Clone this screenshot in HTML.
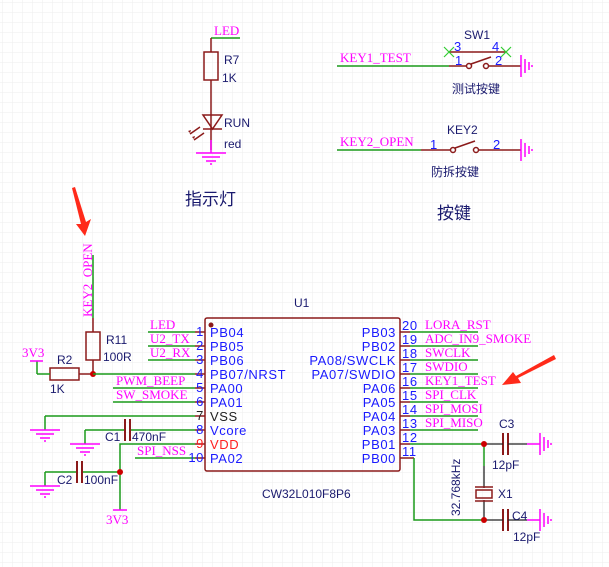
<!DOCTYPE html>
<html><head><meta charset="utf-8"><style>
html,body{margin:0;padding:0;background:#fff}
svg{display:block}
.n{font-family:"Liberation Serif",serif;font-size:13px;fill:#ff00ff}
.p{font-family:"Liberation Sans",sans-serif;font-size:13px;fill:#1a1aff;letter-spacing:0.6px}
.d{font-family:"Liberation Sans",sans-serif;font-size:12px;fill:#1a1a6e}
.c{font-family:"Liberation Sans","Noto Sans CJK SC",sans-serif;fill:#1a1a6e}
</style></head><body>
<svg width="609" height="567" viewBox="0 0 609 567" xmlns="http://www.w3.org/2000/svg">
<defs>
<pattern id="g" width="10" height="10" patternUnits="userSpaceOnUse" x="2" y="2">
<path d="M10 0H0V10" fill="none" stroke="#eeeeee" stroke-width="1"/>
</pattern>
<g id="gv" stroke="#ff00ff" stroke-width="1.5"><line x1="0" y1="-11" x2="0" y2="11"/><line x1="4" y1="-7" x2="4" y2="7"/><line x1="8" y1="-4" x2="8" y2="4"/><line x1="11" y1="-1" x2="11" y2="1"/></g>
<g id="gh" stroke="#ff00ff" stroke-width="1.5"><line x1="-15" y1="0" x2="15" y2="0"/><line x1="-9" y1="4" x2="9" y2="4"/><line x1="-5" y1="8" x2="5" y2="8"/><line x1="-1" y1="11" x2="1" y2="11"/></g>
</defs>
<rect width="609" height="567" fill="url(#g)"/>

<!-- LED section -->
<text class="n" x="214" y="35">LED</text>
<line x1="211" y1="38" x2="240" y2="38" stroke="#1a9a1a" stroke-width="1.5"/>
<g stroke="#8b1a1a" stroke-width="1.5" fill="none">
<line x1="211" y1="38" x2="211" y2="52"/>
<rect x="204" y="52" width="14" height="28"/>
<line x1="211" y1="80" x2="211" y2="150"/>
<polygon points="203,115 222,115 212.5,129"/>
<line x1="203" y1="129" x2="222" y2="129"/>
<line x1="200" y1="127" x2="190" y2="134"/><line x1="204" y1="133" x2="194" y2="140"/>
</g>
<path d="M188 131l3-1-1 3zM192 137l3-1-1 3z" fill="#8b1a1a"/>
<line x1="211" y1="140" x2="211" y2="153" stroke="#ff00ff" stroke-width="1.5"/>
<use href="#gh" x="211" y="153"/>
<text class="d" x="224" y="64" font-size="13">R7</text>
<text class="d" x="222" y="82" font-size="13">1K</text>
<text class="d" x="224" y="127" font-size="13">RUN</text>
<text class="d" x="224" y="148" font-size="13">red</text>
<text class="c" x="185" y="205" font-size="17" fill="#2a2aaa">指示灯</text>

<!-- SW1 -->
<text class="d" x="464" y="39">SW1</text>
<text class="n" x="340" y="62">KEY1_TEST</text>
<line x1="337" y1="66" x2="449" y2="66" stroke="#1a9a1a" stroke-width="1.5"/>
<g stroke="#8b1a1a" stroke-width="1.5" fill="none">
<line x1="449" y1="66" x2="466" y2="66"/>
<circle cx="469" cy="66" r="2.5"/>
<line x1="471" y1="64" x2="491" y2="57"/>
<circle cx="486" cy="66" r="2.5"/>
<line x1="489" y1="66" x2="521" y2="66"/>
<line x1="449" y1="52" x2="506" y2="52"/>
</g>
<g stroke="#33cc33" stroke-width="1.2"><path d="M444 47l10 10M454 47l-10 10M501 47l10 10M511 47l-10 10"/></g>
<text class="p" x="454" y="51">3</text><text class="p" x="492" y="51">4</text>
<text class="p" x="455" y="65">1</text><text class="p" x="495" y="65">2</text>
<use href="#gv" x="521" y="66"/>
<text class="c" x="452" y="93" font-size="12">测试按键</text>

<!-- KEY2 -->
<text class="d" x="447" y="134">KEY2</text>
<text class="n" x="340" y="146">KEY2_OPEN</text>
<line x1="337" y1="150" x2="421" y2="150" stroke="#1a9a1a" stroke-width="1.5"/>
<g stroke="#8b1a1a" stroke-width="1.5" fill="none">
<line x1="421" y1="150" x2="450" y2="150"/>
<circle cx="453" cy="150" r="2.5"/>
<line x1="455" y1="148" x2="475" y2="141"/>
<circle cx="476" cy="150" r="2.5"/>
<line x1="479" y1="150" x2="521" y2="150"/>
</g>
<text class="p" x="430" y="149">1</text><text class="p" x="493" y="149">2</text>
<use href="#gv" x="521" y="150"/>
<text class="c" x="431" y="176" font-size="12">防拆按键</text>
<text class="c" x="437" y="219" font-size="17" fill="#2a2aaa">按键</text>

<!-- arrows -->
<g fill="#ff2a1a">
<polygon points="72,188 75,187 86,222 91,219 85,236 76,224 81,224"/>
<polygon points="554,355 556,359 518,378 521,383 502,385 513,372 516,376"/>
</g>

<!-- KEY2_OPEN vertical, R11, R2 -->
<text class="n" transform="translate(92,317) rotate(-90)">KEY2_OPEN</text>
<line x1="93" y1="255" x2="93" y2="318" stroke="#1a9a1a" stroke-width="1.5"/>
<g stroke="#8b1a1a" stroke-width="1.5" fill="none">
<line x1="93" y1="318" x2="93" y2="332"/>
<rect x="86" y="332" width="14" height="28"/>
<line x1="93" y1="360" x2="93" y2="374"/>
<rect x="50" y="368" width="29" height="12"/>
<line x1="79" y1="374" x2="93" y2="374"/>
</g>
<g stroke="#1a9a1a" stroke-width="1.5"><line x1="37" y1="361" x2="37" y2="374"/><line x1="37" y1="374" x2="50" y2="374"/></g>
<line x1="30" y1="361" x2="43" y2="361" stroke="#ff00ff" stroke-width="1.5"/>
<text class="n" x="22" y="357" font-size="14">3V3</text>
<text class="d" x="57" y="364" font-size="13">R2</text>
<text class="d" x="50" y="393" font-size="13">1K</text>
<text class="d" x="106" y="344" font-size="13">R11</text>
<text class="d" x="103" y="361" font-size="13">100R</text>
<circle cx="93" cy="374" r="3" fill="#cc0000"/>

<!-- chip -->
<rect x="205" y="318" width="195" height="153" rx="2" fill="none" stroke="#8b1a1a" stroke-width="1.5"/>
<circle cx="211" cy="325" r="2.5" fill="#8b1a1a"/>
<text class="d" x="294" y="307" font-size="13">U1</text>
<text class="d" x="262" y="498" font-size="13">CW32L010F8P6</text>

<g stroke="#8b1a1a" stroke-width="1.5">
<line x1="195" y1="332" x2="205" y2="332"/><line x1="195" y1="346" x2="205" y2="346"/><line x1="195" y1="360" x2="205" y2="360"/><line x1="195" y1="374" x2="205" y2="374"/><line x1="195" y1="388" x2="205" y2="388"/><line x1="195" y1="402" x2="205" y2="402"/><line x1="195" y1="416" x2="205" y2="416"/><line x1="195" y1="430" x2="205" y2="430"/><line x1="195" y1="444" x2="205" y2="444"/><line x1="195" y1="458" x2="205" y2="458"/>
<line x1="400" y1="332" x2="410" y2="332"/><line x1="400" y1="346" x2="410" y2="346"/><line x1="400" y1="360" x2="410" y2="360"/><line x1="400" y1="374" x2="410" y2="374"/><line x1="400" y1="388" x2="410" y2="388"/><line x1="400" y1="402" x2="410" y2="402"/><line x1="400" y1="416" x2="410" y2="416"/><line x1="400" y1="430" x2="410" y2="430"/><line x1="400" y1="444" x2="410" y2="444"/><line x1="400" y1="458" x2="414" y2="458"/>
</g>
<g stroke="#1a9a1a" stroke-width="1.5" fill="none">
<line x1="148" y1="332" x2="195" y2="332"/><line x1="148" y1="346" x2="195" y2="346"/><line x1="148" y1="360" x2="195" y2="360"/>
<line x1="93" y1="374" x2="195" y2="374"/>
<line x1="113" y1="388" x2="195" y2="388"/><line x1="113" y1="402" x2="195" y2="402"/>
<line x1="45" y1="416" x2="195" y2="416"/>
<line x1="85" y1="430" x2="125" y2="430"/><line x1="130" y1="430" x2="195" y2="430"/>
<polyline points="195,444 120,444 120,510"/>
<line x1="135" y1="458" x2="195" y2="458"/>
<line x1="45" y1="472" x2="77" y2="472"/><line x1="82" y1="472" x2="120" y2="472"/>
<line x1="45" y1="416" x2="45" y2="430"/><line x1="85" y1="430" x2="85" y2="444"/><line x1="45" y1="472" x2="45" y2="486"/>
<line x1="410" y1="332" x2="478" y2="332"/><line x1="410" y1="346" x2="478" y2="346"/><line x1="410" y1="360" x2="478" y2="360"/><line x1="410" y1="374" x2="478" y2="374"/><line x1="410" y1="388" x2="478" y2="388"/><line x1="410" y1="402" x2="478" y2="402"/><line x1="410" y1="416" x2="478" y2="416"/><line x1="410" y1="430" x2="478" y2="430"/>
<line x1="410" y1="444" x2="484" y2="444"/>
<polyline points="414,458 414,520 484,520"/>
<line x1="484" y1="444" x2="484" y2="466"/>
</g>
<g stroke="#8b1a1a" stroke-width="2">
<line x1="125" y1="419" x2="125" y2="441"/><line x1="130" y1="419" x2="130" y2="441"/>
<line x1="77" y1="461" x2="77" y2="483"/><line x1="82" y1="461" x2="82" y2="483"/>
<line x1="503" y1="433" x2="503" y2="455"/><line x1="508" y1="433" x2="508" y2="455"/>
<line x1="503" y1="509" x2="503" y2="531"/><line x1="508" y1="509" x2="508" y2="531"/>
</g>
<g stroke="#222" stroke-width="1.3">
<line x1="484" y1="444" x2="503" y2="444"/><line x1="508" y1="444" x2="527" y2="444"/>
<line x1="484" y1="520" x2="503" y2="520"/><line x1="508" y1="520" x2="527" y2="520"/>
<line x1="484" y1="466" x2="484" y2="488"/><line x1="484" y1="500" x2="484" y2="520"/>
</g>
<g stroke="#8b1a1a" stroke-width="1.5" fill="none">
<rect x="476" y="490" width="16" height="8"/><line x1="475" y1="487" x2="493" y2="487"/><line x1="475" y1="501" x2="493" y2="501"/>
</g>
<line x1="527" y1="444" x2="540" y2="444" stroke="#ff00ff" stroke-width="1.5"/>
<line x1="527" y1="520" x2="540" y2="520" stroke="#ff00ff" stroke-width="1.5"/>
<use href="#gv" x="540" y="444"/><use href="#gv" x="540" y="520"/>
<line x1="113" y1="510" x2="127" y2="510" stroke="#ff00ff" stroke-width="1.5"/>
<text class="n" x="106" y="524" font-size="14">3V3</text>
<use href="#gh" x="45" y="430"/><use href="#gh" x="85" y="444"/><use href="#gh" x="45" y="486"/>
<circle cx="120" cy="472" r="3" fill="#cc0000"/>
<circle cx="484" cy="444" r="3" fill="#cc0000"/>
<circle cx="484" cy="520" r="3" fill="#cc0000"/>
<text class="d" x="105" y="441" font-size="13">C1</text><text class="d" x="132" y="441" font-size="13">470nF</text>
<text class="d" x="57" y="484" font-size="13">C2</text><text class="d" x="84" y="484" font-size="13">100nF</text>
<text class="d" x="499" y="428" font-size="13">C3</text><text class="d" x="492" y="469" font-size="13">12pF</text>
<text class="d" x="498" y="498" font-size="13">X1</text>
<text class="d" x="512" y="520" font-size="13">C4</text><text class="d" x="513" y="541" font-size="13">12pF</text>
<text class="d" transform="translate(460,516) rotate(-90)">32.768kHz</text>

<!-- left pin nums & names -->
<g class="p" text-anchor="end">
<text x="204" y="336">1</text><text x="204" y="350">2</text><text x="204" y="364">3</text><text x="204" y="378">4</text><text x="204" y="392">5</text><text x="204" y="406">6</text><text x="204" y="420" fill="#222">7</text><text x="204" y="434">8</text><text x="204" y="448" fill="#ff2020">9</text><text x="204" y="462">10</text>
</g>
<g class="p">
<text x="210" y="337">PB04</text><text x="210" y="351">PB05</text><text x="210" y="365">PB06</text><text x="210" y="379">PB07/NRST</text><text x="210" y="393">PA00</text><text x="210" y="407">PA01</text><text x="210" y="421" fill="#222">VSS</text><text x="210" y="435">Vcore</text><text x="210" y="449" fill="#ff2020">VDD</text><text x="210" y="463">PA02</text>
</g>
<g class="n">
<text x="150" y="329">LED</text><text x="150" y="343">U2_TX</text><text x="150" y="357">U2_RX</text><text x="116" y="385">PWM_BEEP</text><text x="116" y="399">SW_SMOKE</text><text x="137" y="455">SPI_NSS</text>
</g>
<!-- right -->
<g class="p" text-anchor="end">
<text x="396" y="337">PB03</text><text x="396" y="351">PB02</text><text x="396" y="365">PA08/SWCLK</text><text x="396" y="379">PA07/SWDIO</text><text x="396" y="393">PA06</text><text x="396" y="407">PA05</text><text x="396" y="421">PA04</text><text x="396" y="435">PA03</text><text x="396" y="449">PB01</text><text x="396" y="463">PB00</text>
</g>
<g class="p">
<text x="402" y="330">20</text><text x="402" y="344">19</text><text x="402" y="358">18</text><text x="402" y="372">17</text><text x="402" y="386">16</text><text x="402" y="400">15</text><text x="402" y="414">14</text><text x="402" y="428">13</text><text x="402" y="442">12</text><text x="402" y="456">11</text>
</g>
<g class="n">
<text x="425" y="329">LORA_RST</text><text x="425" y="343">ADC_IN9_SMOKE</text><text x="425" y="357">SWCLK</text><text x="425" y="371">SWDIO</text><text x="425" y="385">KEY1_TEST</text><text x="425" y="399">SPI_CLK</text><text x="425" y="413">SPI_MOSI</text><text x="425" y="427">SPI_MISO</text>
</g>
</svg>
</body></html>
